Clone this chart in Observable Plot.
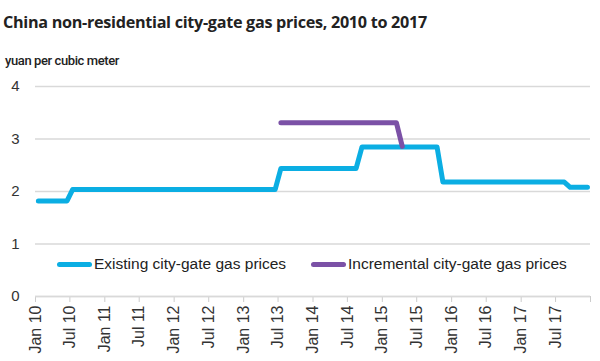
<!DOCTYPE html>
<html>
<head>
<meta charset="utf-8">
<script src="https://cdn.jsdelivr.net/npm/d3@7"></script>
<script src="https://cdn.jsdelivr.net/npm/@observablehq/plot@0.6"></script>
<style>
  body { margin: 0; background: #fff; font-family: "Liberation Sans", Arial, sans-serif; }
  #wrap { position: relative; width: 600px; height: 361px; overflow: hidden; }
  #title { position: absolute; left: 3px; top: 11px; font-family: "Open Sans", sans-serif; font-weight: 700; font-size: 16.2px; color: #222; letter-spacing: -0.3px; }
  #sub { position: absolute; left: 5px; top: 53px; font-family: "Roboto", sans-serif; font-weight: 500; font-size: 13px; color: #222; letter-spacing: -0.4px; }
  #chart { position: absolute; left: 0; top: 70px; }
  .leg { position: absolute; top: 255px; font-size: 15.5px; color: #222; display: flex; align-items: center; }
  .leg span.sw { display: inline-block; width: 35px; height: 5px; border-radius: 3px; margin-right: 2px; }
</style>
</head>
<body>
<div id="wrap">
  <div id="title">China non-residential city-gate gas prices, 2010 to 2017</div>
  <div id="sub">yuan per cubic meter</div>
  <div id="chart"></div>
  <div class="leg" style="left:57px"><span class="sw" style="background:#0BAEE3"></span>Existing city-gate gas prices</div>
  <div class="leg" style="left:311px"><span class="sw" style="background:#7B51A6"></span>Incremental city-gate gas prices</div>
</div>
<script>
// Existing city-gate prices: month and value at each change point
const existingMonths = ["2010-01","2010-06","2010-07","2013-06","2013-07","2014-08","2014-09","2015-10","2015-11","2017-08","2017-09","2017-12"];
const existingValues = [1.82, 1.82, 2.04, 2.04, 2.44, 2.44, 2.85, 2.85, 2.18, 2.18, 2.08, 2.08];
// Incremental city-gate prices
const incrementalMonths = ["2013-07","2015-03","2015-04"];
const incrementalValues = [3.31, 3.31, 2.86];
// Axis ticks
const tickMonths = ["2010-01","2010-07","2011-01","2011-07","2012-01","2012-07","2013-01","2013-07","2014-01","2014-07","2015-01","2015-07","2016-01","2016-07","2017-01","2017-07","2018-01"];
const tickLabels = ["Jan 10","Jul 10","Jan 11","Jul 11","Jan 12","Jul 12","Jan 13","Jul 13","Jan 14","Jul 14","Jan 15","Jul 15","Jan 16","Jul 16","Jan 17","Jul 17",""];
const yTicks = [0, 1, 2, 3, 4];

const midMonth = s => { const d = d3.utcParse("%Y-%m")(s); return d3.utcDay.offset(d, 15); };
const startMonth = s => d3.utcParse("%Y-%m")(s);

const existing = existingMonths.map((m, i) => ({date: midMonth(m), value: existingValues[i]}));
const incremental = incrementalMonths.map((m, i) => ({date: midMonth(m), value: incrementalValues[i]}));
const ticks = tickMonths.map(startMonth);
const labelOf = new Map(ticks.map((t, i) => [+t, tickLabels[i]]));

const chart = Plot.plot({
  width: 600,
  height: 291,
  marginLeft: 35,
  marginRight: 10,
  marginTop: 16,
  marginBottom: 65,
  style: { fontFamily: "'Liberation Sans', Arial, sans-serif", fontSize: "13px", color: "#333", background: "transparent" },
  x: { type: "utc", domain: [ticks[0], ticks[ticks.length - 1]], label: null },
  y: { domain: [0, 4], label: null },
  marks: [
    Plot.gridY(yTicks, { stroke: "#d9d9d9", strokeOpacity: 1, strokeWidth: 1.3 }),
    Plot.axisY({ ticks: yTicks, tickFormat: d => String(d), tickSize: 0, tickPadding: 16, fontSize: 15, fill: "#333", label: null }),
    Plot.axisX({ ticks: ticks, tickFormat: d => labelOf.get(+d), tickRotate: -90, tickSize: 6, tickPadding: 3, fontSize: 16, stroke: "#ccc", fill: "#333", label: null }),
    Plot.ruleY([0], { stroke: "#d9d9d9", strokeWidth: 1.3 }),
    Plot.line(existing, { x: "date", y: "value", stroke: "#0BAEE3", strokeWidth: 5, strokeLinecap: "round", strokeLinejoin: "round" }),
    Plot.line(incremental, { x: "date", y: "value", stroke: "#7B51A6", strokeWidth: 5, strokeLinecap: "round", strokeLinejoin: "round" })
  ]
});
document.getElementById("chart").appendChild(chart);
</script>
</body>
</html>
